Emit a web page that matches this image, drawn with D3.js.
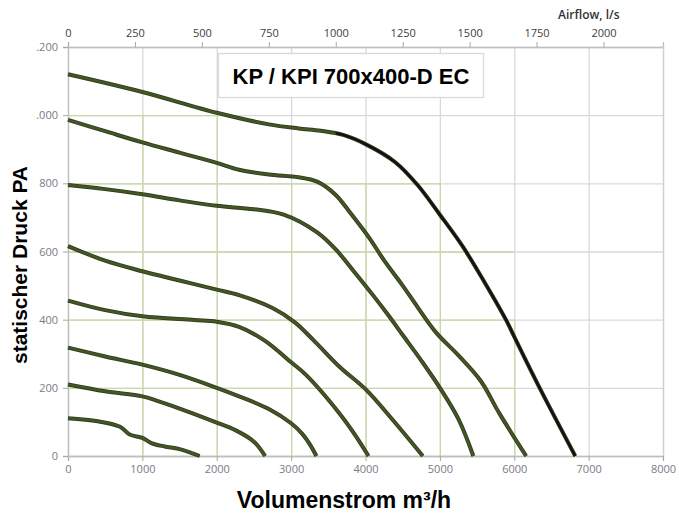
<!DOCTYPE html>
<html><head><meta charset="utf-8">
<script src="https://cdn.jsdelivr.net/npm/d3@7"></script>
<style>
html,body{margin:0;padding:0;background:#fff;}
svg{display:block;}
</style></head>
<body>
<svg id="c" width="679" height="516"></svg>
<script>
// ---- data ----
const chartTitle = "KP / KPI 700x400-D EC";
const xTitle = "Volumenstrom m³/h";
const yTitle = "statischer Druck PA";
const topTitle = "Airflow, l/s";
const xTicks = [0,1000,2000,3000,4000,5000,6000,7000,8000];
const yTicks = [0,200,400,600,800,1000,1200];
const yTickLabels = ["0","200","400","600","800",".000",".200"];
const topTicks = [0,250,500,750,1000,1250,1500,1750,2000];

const curve1 = {v:[0,1000,2000,2700,3100,3400,3700,4000,4400,4700,5000,5300,5600,5900,6000,6350,6820],
                p:[1120,1068,1007,973,961,954,942,915,862,795,708,617,510,395,350,196,0]};
const curve2 = {v:[0,500,1000,1500,2000,2300,2700,3100,3350,3600,3800,4050,4250,4500,4700,4950,5250,5550,5800,6160],
                p:[986,953,920,890,860,840,826,818,805,766,712,640,574,500,437,362,295,220,125,0]};
const curve3 = {v:[0,500,1000,1500,2000,2500,2900,3350,3600,3850,4100,4300,4500,4750,5000,5250,5450],
                p:[795,783,768,750,734,724,708,656,606,540,472,415,355,280,200,108,0]};
const curve4 = {v:[0,500,1000,1500,2000,2300,2750,3050,3300,3650,4000,4350,4770],
                p:[616,573,542,515,488,472,434,392,340,262,196,110,0]};
const curve5 = {v:[0,500,1000,1700,2000,2300,2650,3000,3200,3650,3850,4040],
                p:[456,428,410,399,394,379,338,275,238,125,65,0]};
const curve6 = {v:[0,500,1000,1500,2000,2300,2700,3000,3150,3250,3340],
                p:[318,292,268,238,200,175,138,96,65,35,0]};
const curve7 = {v:[0,500,1000,1200,1400,2000,2250,2500,2650],
                p:[210,190,175,162,147,98,76,42,0]};
const curve8 = {v:[0,400,700,830,1000,1120,1300,1500,1770],
                p:[111,102,86,63,53,38,28,20,0]};
const curves = [curve1,curve2,curve3,curve4,curve5,curve6,curve7,curve8];

// green (secondary) grid extents
const greenH = [[0,6000],[200,6000],[400,6000],[600,6000],[800,5000],[1000,2000]];
const greenV = [[0,400],[1000,1000],[2000,1000],[3000,800],[4000,800],[5000,800],[6000,400]];

// ---- drawing ----
const svg = d3.select("#c");
const L=68,R=663,T=47,B=456;
const x = d3.scaleLinear().domain([0,8000]).range([L,R]);
const y = d3.scaleLinear().domain([0,1200]).range([B,T]);
const xTop = d3.scaleLinear().domain([0,8000/3.6]).range([L,R]);
const gray="#d9d9d9", green="#c9d9a6";

svg.append("rect").attr("width",679).attr("height",516).attr("fill","#fff");

// gray grid
const g = svg.append("g");
g.selectAll(".gv").data(xTicks).join("line")
  .attr("x1",d=>x(d)+0.5).attr("x2",d=>x(d)+0.5).attr("y1",T).attr("y2",B)
  .attr("stroke",gray).attr("stroke-width",1.3);
g.selectAll(".gh").data(yTicks).join("line")
  .attr("x1",L).attr("x2",R).attr("y1",d=>y(d)+0.5).attr("y2",d=>y(d)+0.5)
  .attr("stroke",gray).attr("stroke-width",1.3);
// green grid
g.selectAll(".grh").data(greenH).join("line")
  .attr("x1",L).attr("x2",d=>x(d[1])).attr("y1",d=>y(d[0])+0.5).attr("y2",d=>y(d[0])+0.5)
  .attr("stroke",green).attr("stroke-width",1.3);
g.selectAll(".grv").data(greenV).join("line")
  .attr("x1",d=>x(d[0])+0.5).attr("x2",d=>x(d[0])+0.5).attr("y1",B).attr("y2",d=>y(d[1]))
  .attr("stroke",green).attr("stroke-width",1.3);

// axes
const fontTick = "'Open Sans','Liberation Sans',sans-serif";
const fmt = d3.format("d");
const ax = svg.append("g").attr("transform",`translate(0,${B})`)
  .call(d3.axisBottom(x).tickValues(xTicks).tickFormat(fmt).tickSize(5).tickPadding(4));
const ay = svg.append("g").attr("transform",`translate(${L},0)`)
  .call(d3.axisLeft(y).tickValues(yTicks).tickFormat((d,i)=>yTickLabels[i]).tickSize(5).tickPadding(5));
const at = svg.append("g").attr("transform",`translate(0,${T})`)
  .call(d3.axisTop(xTop).tickValues(topTicks).tickFormat(fmt).tickSize(5).tickPadding(5));
[ax,ay,at].forEach(a=>{
  a.select(".domain").attr("stroke","#bfbfbf").attr("stroke-width",1.3);
  a.selectAll(".tick line").attr("stroke","#a6a6a6");
  a.selectAll("text").attr("font-family",fontTick).attr("font-size",11).attr("fill","#7a7a86");
});
at.selectAll("text").attr("fill","#404040");
svg.append("line").attr("x1",R+0.5).attr("x2",R+0.5).attr("y1",T).attr("y2",B).attr("stroke","#d0d0d0").attr("stroke-width",1.3);

svg.append("text").attr("x",558).attr("y",19).attr("font-family",fontTick)
  .attr("font-size",12).attr("font-weight",600).attr("fill","#333").text(topTitle);

// curves
const line = d3.line().x(d=>x(d[0])).y(d=>y(d[1])).curve(d3.curveCatmullRom.alpha(0.5));
const cg = svg.append("g");
curves.forEach((c,i)=>{
  const pts = c.v.map((v,j)=>[v,c.p[j]]);
  cg.append("path").attr("d",line(pts)).attr("fill","none")
    .attr("stroke","#2e3a1a").attr("stroke-width",4).attr("stroke-linejoin","round");
  cg.append("path").attr("d",line(pts)).attr("fill","none")
    .attr("stroke","#445626").attr("stroke-width",2.4).attr("stroke-linejoin","round");
});
// darker right part of top curve
svg.append("clipPath").attr("id","clipR").append("rect").attr("x",x(3600)).attr("y",0).attr("width",400).attr("height",516);
cg.append("path").attr("d",line(curve1.v.map((v,j)=>[v,curve1.p[j]]))).attr("fill","none")
  .attr("clip-path","url(#clipR)").attr("stroke","#111").attr("stroke-width",2.4);

// title box
svg.append("rect").attr("x",218.5).attr("y",53.5).attr("width",265).attr("height",44)
  .attr("fill","#fff").attr("stroke","#d9d9d9").attr("stroke-width",1.3);
svg.append("text").attr("x",351).attr("y",84).attr("text-anchor","middle")
  .attr("font-family","'Liberation Sans',Arial,sans-serif").attr("font-weight","bold")
  .attr("font-size",22).attr("fill","#000").text(chartTitle);

// axis titles
svg.append("text").attr("x",344).attr("y",508).attr("text-anchor","middle")
  .attr("font-family","'Liberation Sans',Arial,sans-serif").attr("font-weight","bold")
  .attr("font-size",23).attr("fill","#000").text(xTitle);
svg.append("text").attr("transform","translate(27,265) rotate(-90)").attr("text-anchor","middle")
  .attr("font-family","'Liberation Sans',Arial,sans-serif").attr("font-weight","bold")
  .attr("font-size",21).attr("fill","#000").text(yTitle);
</script>
</body></html>
